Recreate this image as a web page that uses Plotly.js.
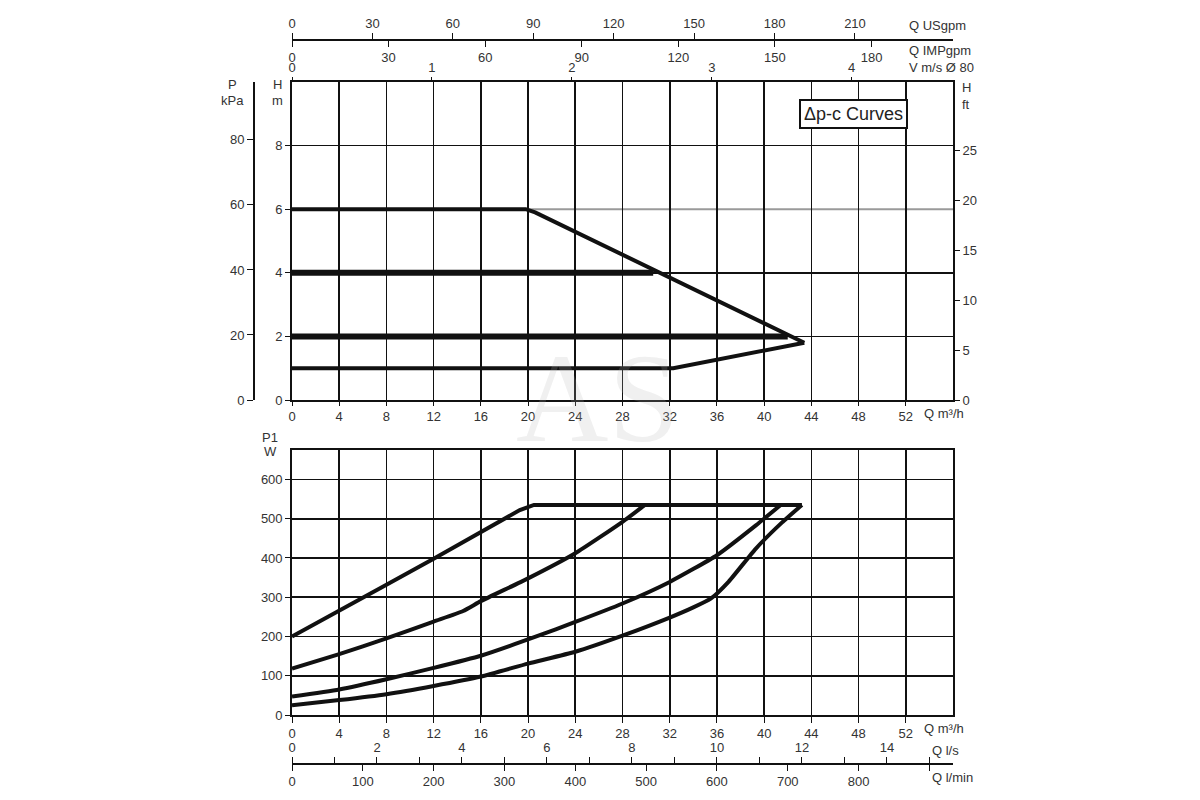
<!DOCTYPE html>
<html>
<head>
<meta charset="utf-8">
<script src="https://cdn.plot.ly/plotly-3.0.1.min.js"></script>
<style>
  html, body { margin: 0; padding: 0; background: #fff; }
  #chart { width: 1200px; height: 800px; }
</style>
</head>
<body>
<div id="chart"></div>
<script>
// flow axis, m3/h
const qMax = 56;
const qTicks = [0, 4, 8, 12, 16, 20, 24, 28, 32, 36, 40, 44, 48, 52];

// secondary scales
const usgpmTicks = [0, 30, 60, 90, 120, 150, 180, 210];
const impTicks = [0, 30, 60, 90, 120, 150, 180];
const velTicks = [0, 1, 2, 3, 4];
const lsTicks = [0, 2, 4, 6, 8, 10, 12, 14];
const lsMinor = [1, 3, 5, 7, 9, 11, 13, 15];
const lminTicks = [0, 100, 200, 300, 400, 500, 600, 700, 800, 900];
const lminText = ['0', '100', '200', '300', '400', '500', '600', '700', '800', ''];
const hTicks = [0, 2, 4, 6, 8];
const hGrid = [2, 4, 8];     // black grid rows; the 6 m row is grey
const kpaTicks = [0, 20, 40, 60, 80];
const ftTicks = [0, 5, 10, 15, 20, 25];
const p1Ticks = [0, 100, 200, 300, 400, 500, 600];

// conversion
const usgpmPerM3h = 4.403;
const impPerM3h = 3.666;
const m3hPerMs = 11.855;
const lsPerM3h = 1 / 3.6;
const lminPerM3h = 1000 / 60;
const hMax = 10;
const kpaMax = 97.8;
const ftMax = 31.8;
const p1Max = 675;

// Δp-c curves, head (m)
const q6 = [0, 19.8, 20.6, 43.4];
const h6 = [6, 6, 5.9, 1.8];
const qLow = [43.4, 33.3, 32.3, 0];
const hLow = [1.8, 1.07, 1.0, 1.0];
const q4 = [0, 30.6];
const h4 = [4, 4];
const q2 = [0, 42];
const h2 = [2, 2];

// power input P1 (W)
const qA = [0, 4, 8, 12, 16, 19.3, 20.5, 43.2];
const pA = [200, 265, 332, 398, 465, 522, 535, 535];
const qB = [0, 4, 8, 12, 14.5, 16, 20, 24, 28, 29.9];
const pB = [118, 155, 195, 238, 265, 290, 348, 412, 492, 535];
const qC = [0, 4, 8, 12, 16, 20.7, 24, 28, 32, 36, 39.3, 41.4];
const pC = [47, 65, 91, 120, 151, 200, 237, 284, 339, 407, 483, 535];
const qD = [0, 4, 8, 12, 16, 20, 24, 28, 32, 34, 35.5, 37, 39.3, 41.5, 43.2];
const pD = [25, 38, 53, 74, 98, 131, 161, 202, 248, 274, 297, 340, 424, 490, 535];

const ink = '#111';
const txt = '#333';
const font = { family: 'Liberation Sans, Arial, sans-serif', size: 13, color: txt };

function curve(x, y, axes, width, shape) {
  return {
    x: x, y: y, xaxis: axes[0], yaxis: axes[1], type: 'scatter', mode: 'lines',
    line: { color: ink, width: width, shape: shape || 'linear', smoothing: 0.5 },
    hoverinfo: 'skip', showlegend: false
  };
}
function dummy(xa, ya) {
  return { x: [], y: [], xaxis: xa, yaxis: ya, type: 'scatter', mode: 'lines', showlegend: false, hoverinfo: 'skip' };
}

const traces = [
  curve(q6, h6, ['x', 'y'], 4),
  curve(qLow, hLow, ['x', 'y'], 4),
  curve(q4, h4, ['x', 'y'], 6),
  curve(q2, h2, ['x', 'y'], 6),
  curve(qA, pA, ['x2', 'y2'], 4),
  curve(qB, pB, ['x2', 'y2'], 4, 'spline'),
  curve(qC, pC, ['x2', 'y2'], 4, 'spline'),
  curve(qD, pD, ['x2', 'y2'], 4, 'spline'),
  dummy('x3', 'y'), dummy('x4', 'y'), dummy('x5', 'y'),
  dummy('x6', 'y2'), dummy('x7', 'y2'),
  dummy('x', 'y3'), dummy('x', 'y4')
];

const xDom = [292 / 1200, 953 / 1200];
const topDom = [1 - 400 / 800, 1 - 82 / 800];
const botDom = [1 - 715 / 800, 1 - 450 / 800];

const gridAxis = {
  showgrid: true, gridcolor: ink, gridwidth: 1.6,
  showline: true, linecolor: ink, linewidth: 1.8, mirror: true,
  zeroline: false, ticks: 'outside', ticklen: 5, tickcolor: ink,
  tickfont: font, fixedrange: true
};
const scaleAxis = {
  showgrid: false, zeroline: false, showline: true, linecolor: ink, linewidth: 1.5,
  ticks: 'outside', ticklen: 6, tickcolor: ink, tickfont: font, fixedrange: true
};

function lbl(text, px, py, xanchor) {
  return {
    text: text, xref: 'paper', yref: 'paper', x: px / 1200, y: 1 - py / 800,
    xanchor: xanchor || 'left', yanchor: 'middle', showarrow: false, font: font
  };
}

const layout = {
  width: 1200, height: 800,
  margin: { l: 0, r: 0, t: 0, b: 0 },
  paper_bgcolor: '#fff', plot_bgcolor: '#fff',
  font: font,
  showlegend: false,
  xaxis: Object.assign({}, gridAxis, {
    domain: xDom, anchor: 'y', range: [0, qMax], tickvals: qTicks, ticklen: 4
  }),
  yaxis: Object.assign({}, gridAxis, {
    domain: topDom, anchor: 'x', range: [0, hMax], tickvals: hTicks, showgrid: false,
    minor: { tickvals: hGrid, showgrid: true, gridcolor: ink, gridwidth: 1.6, ticks: '' }
  }),
  xaxis2: Object.assign({}, gridAxis, {
    domain: xDom, anchor: 'y2', range: [0, qMax], tickvals: qTicks, ticklen: 6
  }),
  yaxis2: Object.assign({}, gridAxis, {
    domain: botDom, anchor: 'x2', range: [0, p1Max], tickvals: p1Ticks
  }),
  yaxis3: Object.assign({}, scaleAxis, {
    overlaying: 'y', anchor: 'free', position: 253 / 1200, side: 'left',
    range: [0, kpaMax], tickvals: kpaTicks
  }),
  yaxis4: Object.assign({}, scaleAxis, {
    overlaying: 'y', anchor: 'x', side: 'right', showline: false,
    range: [0, ftMax], tickvals: ftTicks
  }),
  xaxis3: Object.assign({}, scaleAxis, {
    overlaying: 'x', anchor: 'free', position: 1 - 39 / 800, side: 'top',
    range: [0, qMax * usgpmPerM3h], tickvals: usgpmTicks
  }),
  xaxis4: Object.assign({}, scaleAxis, {
    overlaying: 'x', anchor: 'free', position: 1 - 39 / 800, side: 'bottom',
    range: [0, qMax * impPerM3h], tickvals: impTicks
  }),
  xaxis5: Object.assign({}, scaleAxis, {
    overlaying: 'x', anchor: 'y', side: 'top', showline: false, ticklen: 4,
    range: [0, qMax / m3hPerMs], tickvals: velTicks
  }),
  xaxis6: Object.assign({}, scaleAxis, {
    overlaying: 'x2', anchor: 'free', position: 1 - 763 / 800, side: 'top',
    range: [0, qMax * lsPerM3h], tickvals: lsTicks,
    minor: { tickvals: lsMinor, ticks: 'outside', ticklen: 6, tickcolor: ink }
  }),
  xaxis7: Object.assign({}, scaleAxis, {
    overlaying: 'x2', anchor: 'free', position: 1 - 763 / 800, side: 'bottom',
    range: [0, qMax * lminPerM3h], tickvals: lminTicks, ticktext: lminText
  }),
  shapes: [
    { type: 'line', xref: 'x', yref: 'y', x0: 0, x1: qMax, y0: 6, y1: 6,
      line: { color: '#9a9a9a', width: 2 }, layer: 'below' }
  ],
  annotations: [
    { text: 'AS', xref: 'paper', yref: 'paper', x: 598 / 1200, y: 1 - 398 / 800,
      showarrow: false, font: { family: 'Liberation Serif, serif', size: 128, color: 'rgba(180,180,180,0.2)' } },
    { text: 'Δp-c Curves', xref: 'x', yref: 'y', x: 47.6, y: 9.0,
      showarrow: false, bgcolor: '#fff', bordercolor: ink, borderwidth: 2, borderpad: 3,
      font: { family: 'Liberation Sans Narrow, Arial Narrow, Liberation Sans, sans-serif', size: 18, color: '#222' } },
    lbl('Q USgpm', 907, 25),
    lbl('Q IMPgpm', 907, 50),
    lbl('V m/s Ø 80', 907, 68),
    lbl('P', 233, 85, 'center'),
    lbl('kPa', 233, 101, 'center'),
    lbl('H', 277, 85, 'center'),
    lbl('m', 277, 101, 'center'),
    lbl('H', 966, 88, 'center'),
    lbl('ft', 966, 105, 'center'),
    lbl('Q m³/h', 922, 413),
    lbl('P1', 270, 437, 'center'),
    lbl('W', 270, 452, 'center'),
    lbl('Q m³/h', 922, 728),
    lbl('Q l/s', 930, 750),
    lbl('Q l/min', 930, 777)
  ]
};

Plotly.newPlot('chart', traces, layout, { staticPlot: true, displayModeBar: false });
</script>
</body>
</html>
